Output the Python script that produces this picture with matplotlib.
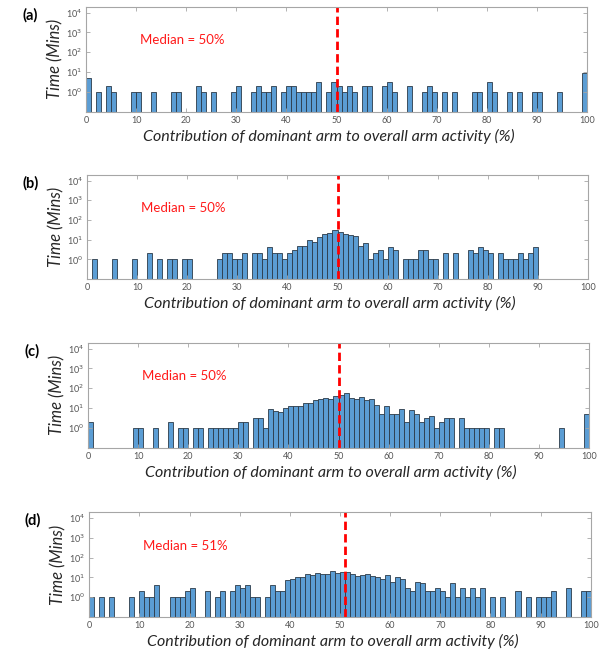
import numpy as np
import matplotlib
matplotlib.use("Agg")
import matplotlib.pyplot as plt

# minutes spent in each 1% bin of dominant-arm contribution (bins 0..99)
time_a = [5, 0, 1, 0, 2, 1, 0, 0, 0, 1,
          1, 0, 0, 1, 0, 0, 0, 1, 1, 0,
          0, 0, 2, 1, 0, 1, 0, 0, 0, 1,
          2, 0, 0, 1, 2, 1, 1, 2, 0, 1,
          2, 2, 1, 1, 1, 1, 3, 0, 1, 3,
          2, 1, 2, 1, 0, 2, 2, 0, 0, 2,
          3, 1, 0, 0, 2, 0, 0, 1, 2, 1,
          0, 1, 0, 1, 0, 0, 0, 1, 1, 0,
          3, 1, 0, 0, 1, 0, 1, 0, 0, 1,
          1, 0, 0, 0, 1, 0, 0, 0, 0, 9]

time_b = [0, 1, 0, 0, 0, 1, 0, 0, 0, 1,
          0, 0, 2, 0, 1, 0, 1, 1, 0, 1,
          1, 0, 0, 0, 0, 0, 1, 2, 2, 1,
          1, 2, 0, 2, 2, 1, 4, 2, 2, 1,
          2, 3, 5, 5, 10, 8, 14, 19, 21, 31,
          25, 19, 17, 15, 5, 7, 1, 2, 3, 1,
          4, 3, 0, 1, 1, 1, 3, 3, 1, 1,
          0, 2, 0, 2, 0, 0, 3, 2, 4, 3,
          2, 0, 2, 1, 1, 1, 2, 1, 2, 4,
          0, 0, 0, 0, 0, 0, 0, 0, 0, 0]

time_c = [2, 0, 0, 0, 0, 0, 0, 0, 0, 1,
          1, 0, 0, 1, 0, 0, 2, 0, 1, 1,
          0, 1, 1, 0, 1, 1, 1, 1, 1, 1,
          2, 2, 0, 3, 3, 1, 9, 7, 6, 10,
          13, 13, 13, 18, 18, 25, 30, 32, 30, 40,
          46, 56, 32, 28, 35, 26, 28, 15, 5, 13,
          5, 5, 9, 2, 8, 5, 2, 3, 4, 1,
          2, 3, 3, 0, 3, 1, 1, 1, 1, 1,
          0, 1, 1, 0, 0, 0, 0, 0, 0, 0,
          0, 0, 0, 0, 1, 0, 0, 0, 0, 5]

time_d = [1, 0, 1, 0, 1, 0, 0, 0, 1, 0,
          2, 1, 1, 4, 0, 0, 1, 1, 1, 2,
          3, 0, 0, 2, 0, 1, 2, 0, 2, 4,
          3, 4, 1, 1, 0, 1, 4, 2, 2, 7,
          8, 10, 10, 14, 13, 16, 14, 14, 21, 16,
          18, 18, 15, 12, 13, 14, 12, 10, 8, 13,
          6, 10, 8, 3, 2, 6, 5, 2, 2, 3,
          2, 1, 5, 1, 3, 1, 3, 1, 3, 0,
          1, 0, 1, 0, 0, 2, 0, 1, 0, 1,
          1, 1, 2, 0, 0, 3, 0, 0, 2, 2]

medians = [50, 50, 50, 51]
panel_tags = ["(a)", "(b)", "(c)", "(d)"]
x_ticks = list(range(0, 101, 10))
y_ticks = [1e0, 1e1, 1e2, 1e3, 1e4]
y_tick_labels = ["10$^0$", "10$^1$", "10$^2$", "10$^3$", "10$^4$"]

plt.rcParams["font.family"] = ["Lato", "DejaVu Sans"]

fig = plt.figure(figsize=(6.03, 6.53), dpi=100)
W, H = 603.0, 653.0
# axes boxes in pixels: left, right, top, bottom
boxes = [(86, 587, 6.7, 111.7),
         (87, 588, 174.7, 279.0),
         (88, 589, 342.7, 447.7),
         (89.3, 590.7, 512.3, 616.7)]

edges = np.arange(100)
grey = "#a6a6a6"

for data, med, tag, (l, r, t, b) in zip([time_a, time_b, time_c, time_d],
                                       medians, panel_tags, boxes):
    ax = fig.add_axes([l / W, 1 - b / H, (r - l) / W, (b - t) / H])
    vals = np.array(data, dtype=float)
    keep = vals > 0
    ax.bar(edges[keep], vals[keep], width=1.0, align="edge",
           color="#5b9dd4", edgecolor="#2b3a48", linewidth=0.6, log=True)
    ax.set_yscale("log")
    ax.set_ylim(0.1, 2e4)
    ax.set_xlim(0, 100)
    ax.axvline(med, color="#ff0000", linestyle=(0, (3, 1.5)), linewidth=2)

    ax.set_xticks(x_ticks)
    ax.set_yticks(y_ticks)
    ax.set_yticklabels(y_tick_labels)
    ax.yaxis.set_minor_locator(matplotlib.ticker.NullLocator())
    ax.tick_params(direction="in", length=3, width=0.6, colors=grey,
                   labelcolor="#555555", labelsize=6.5, top=True, right=True,
                   pad=3)
    for s in ax.spines.values():
        s.set_color(grey)
        s.set_linewidth(0.8)

    ax.text(0.108, 0.68, "Median = %d%%" % med, color="#ff1a1a",
            fontsize=9.5, ha="left", va="center", transform=ax.transAxes)
    ax.text(-0.112, 0.92, tag, fontsize=10.5, fontweight="bold",
            ha="center", va="center", transform=ax.transAxes)
    ax.text(-0.062, 0.5, "Time (Mins)", fontsize=12, style="italic",
            color="#262626", rotation=90, ha="center", va="center",
            transform=ax.transAxes)
    ax.text(0.485, -0.235,
            "Contribution of dominant arm to overall arm activity (%)",
            fontsize=11.5, style="italic", color="#262626",
            ha="center", va="center", transform=ax.transAxes)

fig.savefig("out.png", dpi=100)
